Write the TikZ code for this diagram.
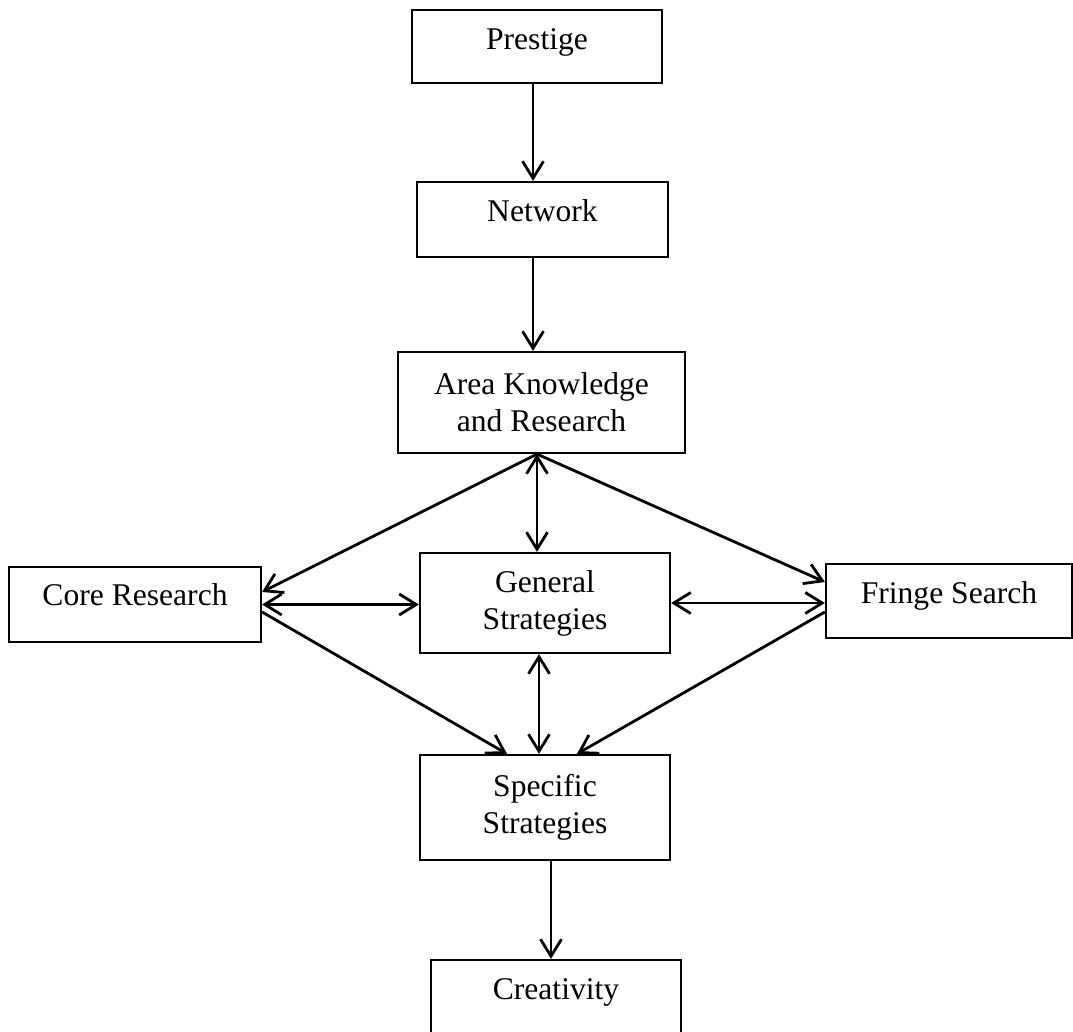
\documentclass[tikz,border=0pt]{standalone}
\usepackage{fontspec}
\setmainfont{Liberation Serif}
\usetikzlibrary{arrows.meta,calc}
\tikzset{
  box/.style={draw, line width=1.1pt, inner sep=0pt, font=\fontsize{15.8}{18.5}\selectfont, align=center},
  tip/.style={},
  arr/.style={line width=1.4pt, -{Straight Barb[length=8.5pt,width=10.5pt,line width=1.4pt]}},
  darr/.style={line width=1.4pt, {Straight Barb[length=8.5pt,width=10.5pt,line width=1.4pt]}-{Straight Barb[length=8.5pt,width=10.5pt,line width=1.4pt]}}
}
\begin{document}
\begin{tikzpicture}[x=0.5pt,y=-0.5pt]
\useasboundingbox (0,0) rectangle (1073,1032);
% single-line boxes (anchored at baseline)
\node[box, anchor=base, minimum width=125pt, text height=20pt, text depth=16.5pt] (P) at (537,50) {Prestige};
\node[box, anchor=base, minimum width=125.5pt, text height=20pt, text depth=17.5pt] (N) at (542.5,222) {Network};
\node[box, anchor=base, minimum width=126pt, text height=19.5pt, text depth=18pt] (C) at (135,606) {Core Research};
\node[box, anchor=base, minimum width=123pt, text height=20pt, text depth=17pt] (F) at (949,604) {Fringe Search};
\node[box, anchor=base, minimum width=125pt, text height=19.5pt, text depth=18pt] (Cr) at (556,999) {Creativity};
% two-line boxes
\node[box, minimum width=143.5pt, minimum height=50.5pt] (A) at (541.5,402.5) {Area Knowledge\\and Research};
\node[box, minimum width=125pt, minimum height=50pt] (G) at (545,603) {General\\Strategies};
\node[box, minimum width=125pt, minimum height=52.5pt] (S) at (545,807.5) {Specific\\Strategies};
% connectors
\draw[arr] ($(P.south)+(-4,0)$) -- ($(N.north)+(-9.5,0)$);
\draw[arr] ($(N.south)+(-9.5,0)$) -- ($(A.north)+(-8.5,0)$);
\draw[darr] ($(A.south)+(-4.5,0)$) -- ($(G.north)+(-8,0)$);
\draw[arr] ($(A.south)+(-4.5,0)$) -- ($(C.east)+(0,-12.5)$);
\draw[arr] ($(A.south)+(-4.5,0)$) -- ($(F.west)+(0,-19)$);
\draw[darr] (C.east) -- (C.east -| G.west);
\draw[darr] (G.east) -- (G.east -| F.west);
\draw[arr] ($(C.east)+(0,7.5)$) -- ($(S.north)+(-38,0)$);
\draw[darr] ($(G.south)+(-6,0)$) -- ($(S.north)+(-6,0)$);
\draw[arr] ($(F.west)+(0,11)$) -- ($(S.north)+(32,0)$);
\draw[arr] ($(S.south)+(6,0)$) -- ($(Cr.north)+(-5,0)$);
\end{tikzpicture}
\end{document}
